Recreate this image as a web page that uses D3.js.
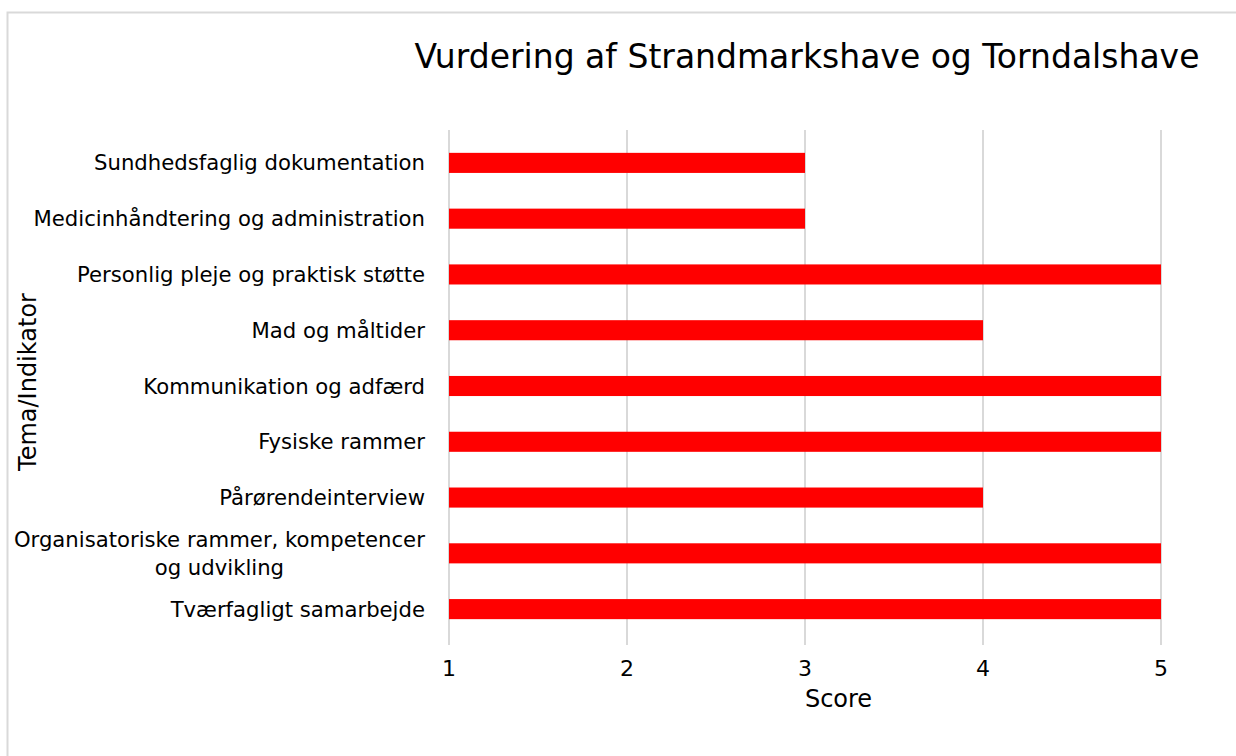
<!DOCTYPE html>
<html><head><meta charset="utf-8">
<script src="https://cdn.jsdelivr.net/npm/d3@7"></script>
<style>body{margin:0;background:#fff}svg{display:block}text{font-family:"DejaVu Sans",Verdana,sans-serif;fill:#000}</style>
</head><body>
<svg id="c" width="1236" height="756"></svg>
<script>
const title = "Vurdering af Strandmarkshave og Torndalshave";
const categories = ["Sundhedsfaglig dokumentation","Medicinhåndtering og administration","Personlig pleje og praktisk støtte","Mad og måltider","Kommunikation og adfærd","Fysiske rammer","Pårørendeinterview","Organisatoriske rammer, kompetencer og udvikling","Tværfagligt samarbejde"];
const labelLines = [["Sundhedsfaglig dokumentation"],["Medicinhåndtering og administration"],["Personlig pleje og praktisk støtte"],["Mad og måltider"],["Kommunikation og adfærd"],["Fysiske rammer"],["Pårørendeinterview"],["Organisatoriske rammer, kompetencer","og udvikling"],["Tværfagligt samarbejde"]];
const scores = [3,3,5,4,5,5,4,5,5];
const xTicks = [1,2,3,4,5];
const xTitle = "Score";
const yTitle = "Tema/Indikator";

const svg = d3.select("#c");
svg.append("rect").attr("x",7.5).attr("y",12.5).attr("width",1250).attr("height",760)
  .attr("fill","#fff").attr("stroke","#d9d9d9").attr("stroke-width",2);

const x = d3.scaleLinear().domain([1,5]).range([449,1161]);
const y = d3.scaleBand().domain(categories).range([135,637]).paddingInner(0.64).paddingOuter(0.32);

svg.append("g").selectAll("line").data(xTicks).join("line")
  .attr("x1",d=>x(d)).attr("x2",d=>x(d)).attr("y1",130).attr("y2",645)
  .attr("stroke","#d9d9d9").attr("stroke-width",2);

svg.append("g").selectAll("rect").data(categories).join("rect")
  .attr("x",x(1)).attr("y",d=>y(d)).attr("height",y.bandwidth())
  .attr("width",(d,i)=>x(scores[i])-x(1)).attr("fill","#ff0000");

const lg = svg.append("g");
categories.forEach((c,i)=>{
  const lines = labelLines[i];
  const cy = y(c)+y.bandwidth()/2;
  const lh = 28;
  const t = lg.append("text").attr("font-size",21.2).attr("text-anchor", lines.length>1?"middle":"end");
  if(lines.length>1){
    lines.forEach((l,j)=>{
      t.append("tspan").attr("x",0).attr("y",cy + (j-(lines.length-1)/2)*lh + 7.5).text(l);
    });
    const w = t.node().getBBox().width;
    t.selectAll("tspan").attr("x",425 - w/2);
  } else {
    t.attr("x",425).attr("y",cy+7.5).text(lines[0]);
  }
});

svg.append("g").selectAll("text").data(xTicks).join("text")
  .attr("x",d=>x(d)).attr("y",676).attr("text-anchor","middle").attr("font-size",22).text(d=>d);

svg.append("text").attr("x",838.5).attr("y",707).attr("text-anchor","middle").attr("font-size",24).text(xTitle);
svg.append("text").attr("transform","translate(36,382) rotate(-90)").attr("text-anchor","middle").attr("font-size",24).text(yTitle);
svg.append("text").attr("x",807).attr("y",68).attr("text-anchor","middle").attr("font-size",33).text(title);
</script>
</body></html>
